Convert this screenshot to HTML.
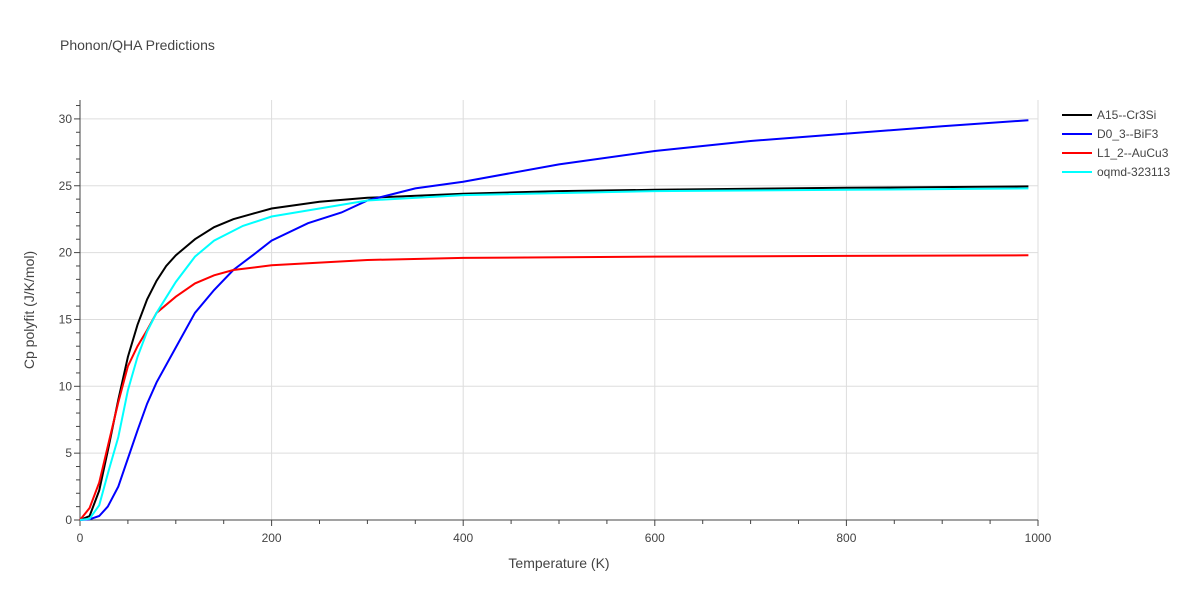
<!DOCTYPE html>
<html><head><meta charset="utf-8"><style>
body{margin:0;background:#fff;font-family:"Liberation Sans",sans-serif}
svg text{font-family:"Liberation Sans",sans-serif;fill:#444}
</style></head><body>
<svg id="chart" width="1200" height="600">
<text x="60" y="50" font-size="14">Phonon/QHA Predictions</text>
<g id="grid"></g><g id="axes"></g><g id="series"></g><g id="legend"></g>
<text x="559" y="568" font-size="14" text-anchor="middle">Temperature (K)</text>
<text transform="translate(34,310) rotate(-90)" font-size="14" text-anchor="middle">Cp polyfit (J/K/mol)</text>
</svg>
<script>
const xTicks=[0,200,400,600,800,1000];
const yTicks=[0,5,10,15,20,25,30];
const seriesNames=["A15--Cr3Si","D0_3--BiF3","L1_2--AuCu3","oqmd-323113"];
const seriesColors=["#000000","#0000ff","#ff0000","#00ffff"];
const tBlack=[0,10,20,30,40,50,60,70,80,90,100,120,140,160,180,200,250,300,400,500,600,800,990];
const cpBlack=[0,0.3,2.2,5.5,9.0,12.2,14.6,16.5,17.9,19.0,19.8,21.0,21.9,22.5,22.9,23.3,23.8,24.1,24.4,24.6,24.7,24.85,24.95];
const tBlue=[0,10,20,29,40,50,60,70,80,100,120,140,160,184,200,238,273,300,350,400,500,600,700,800,900,990];
const cpBlue=[0,0.05,0.3,1.0,2.5,4.6,6.7,8.7,10.3,12.9,15.5,17.2,18.7,20.0,20.9,22.2,23.0,23.9,24.8,25.3,26.6,27.6,28.35,28.9,29.45,29.9];
const tRed=[0,10,20,30,40,50,60,70,80,100,120,140,160,200,300,400,600,800,990];
const cpRed=[0,0.9,2.8,5.8,8.8,11.5,13.0,14.2,15.5,16.7,17.7,18.3,18.7,19.05,19.45,19.6,19.7,19.75,19.8];
const tCyan=[0,10,20,30,40,50,60,70,80,100,120,140,170,200,300,400,600,800,990];
const cpCyan=[0,0.1,1.1,3.7,6.2,9.7,12.2,14.1,15.5,17.8,19.7,20.9,22.0,22.7,23.9,24.3,24.6,24.7,24.8];
const allT=[tBlack,tBlue,tRed,tCyan], allCp=[cpBlack,cpBlue,cpRed,cpCyan];
const X0=80,X1=1038,Y0=520,Y1=100;
const xs=v=>X0+(v/1000)*(X1-X0);
const ys=v=>Y0-v*13.37;
const NS="http://www.w3.org/2000/svg";
function mk(t,p,a){const e=document.createElementNS(NS,t);for(const k in a)e.setAttribute(k,a[k]);p.appendChild(e);return e;}
const grid=document.getElementById('grid'),axes=document.getElementById('axes'),ser=document.getElementById('series'),leg=document.getElementById('legend');
xTicks.forEach(v=>{if(v>0){const l=mk('line',grid,{x1:xs(v),x2:xs(v),y1:Y1,y2:Y0,stroke:'#ddd'});

}
const t=mk('text',axes,{x:xs(v),y:Y0+22,'font-size':12,'text-anchor':'middle'});t.textContent=v;

});
for(let v=0;v<=1000;v+=50){mk('line',axes,{x1:xs(v),x2:xs(v),y1:Y0,y2:Y0+(v%200?4:6),stroke:'#444'});}
yTicks.forEach(v=>{if(v>0){const l=mk('line',grid,{x1:X0,x2:X1,y1:ys(v),y2:ys(v),stroke:'#ddd'});

}
const t=mk('text',axes,{x:X0-8,y:ys(v)+4,'font-size':12,'text-anchor':'end'});t.textContent=v;

});
for(let v=0;v<=31;v++){mk('line',axes,{x1:X0-(v%5?4:6),x2:X0,y1:ys(v),y2:ys(v),stroke:'#444'});}
mk('line',axes,{x1:X0,x2:X0,y1:Y1,y2:Y0,stroke:'#444'});
mk('line',axes,{x1:X0,x2:X1,y1:Y0,y2:Y0,stroke:'#444'});
allT.forEach((ts,i)=>{const d=ts.map((t,j)=>(j?'L':'M')+xs(t).toFixed(1)+','+ys(allCp[i][j]).toFixed(1)).join(' ');
const p=mk('path',ser,{d:d,fill:'none',stroke:seriesColors[i],'stroke-width':2});


const g=mk('g',leg,{});


const y=115+i*19;
mk('line',g,{x1:1062,x2:1092,y1:y,y2:y,stroke:seriesColors[i],'stroke-width':2});
const t=mk('text',g,{x:1097,y:y+4,'font-size':12});t.textContent=seriesNames[i];});
</script>
</body></html>
